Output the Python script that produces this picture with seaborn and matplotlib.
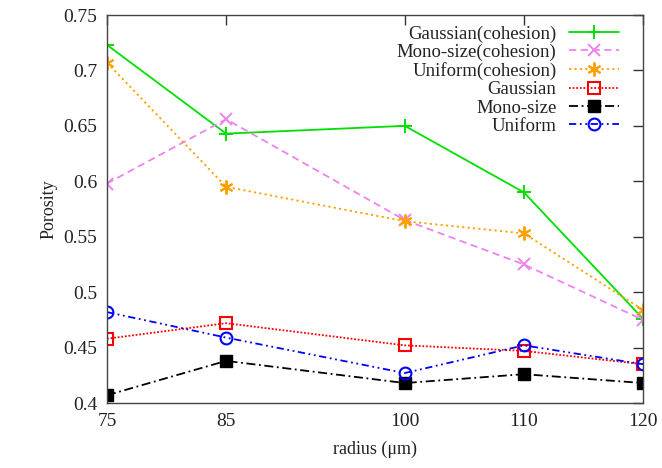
import numpy as np
import pandas as pd
import matplotlib
matplotlib.use("Agg")
import matplotlib.pyplot as plt
import seaborn as sns

radius = [75, 85, 100, 110, 120]
series_names = ["Gaussian(cohesion)", "Mono-size(cohesion)", "Uniform(cohesion)",
                "Gaussian", "Mono-size", "Uniform"]
gaussian_coh = [0.723, 0.643, 0.650, 0.590, 0.476]
mono_coh = [0.598, 0.656, 0.565, 0.525, 0.475]
uniform_coh = [0.707, 0.595, 0.564, 0.553, 0.484]
gaussian = [0.458, 0.472, 0.452, 0.447, 0.435]
mono = [0.407, 0.438, 0.418, 0.426, 0.418]
uniform = [0.482, 0.459, 0.427, 0.452, 0.435]
x_ticks = [75, 85, 100, 110, 120]
y_ticks = [0.4, 0.45, 0.5, 0.55, 0.6, 0.65, 0.7, 0.75]
y_tick_labels = ["0.4", "0.45", "0.5", "0.55", "0.6", "0.65", "0.7", "0.75"]

values = [gaussian_coh, mono_coh, uniform_coh, gaussian, mono, uniform]
df = pd.DataFrame({
    "radius": np.tile(radius, len(series_names)),
    "porosity": np.concatenate(values),
    "series": np.repeat(series_names, len(radius)),
})

styles = {
    "Gaussian(cohesion)": dict(color="#00e000", ls="-", marker="+", ms=10, mfc="none", mew=1.4),
    "Mono-size(cohesion)": dict(color="#ee82ee", ls=(0, (4, 2.5)), marker="x", ms=8, mfc="none", mew=1.4),
    "Uniform(cohesion)": dict(color="#ffa000", ls=(0, (1.2, 1.8)), marker=(6, 2, 0), ms=10, mfc="none", mew=1.4),
    "Gaussian": dict(color="#ff0000", ls=(0, (1, 1)), marker="s", ms=8.5, mfc="none", mew=1.5),
    "Mono-size": dict(color="#000000", ls=(0, (5, 2, 1, 2)), marker="s", ms=8.5, mfc="#000000", mew=1.0),
    "Uniform": dict(color="#0000ff", ls=(0, (4, 2, 1, 2, 1, 2)), marker="o", ms=8.5, mfc="none", mew=1.5),
}

sns.set_theme(style="white")
plt.rcParams["font.family"] = ["Liberation Serif", "DejaVu Serif"]

fig = plt.figure(figsize=(6.62, 4.68), dpi=100)
ax = fig.add_axes([107 / 662, 1 - 403 / 468, (643 - 107) / 662, 388 / 468])

for name in series_names:
    st = styles[name]
    sns.lineplot(data=df[df["series"] == name], x="radius", y="porosity", ax=ax,
                 color=st["color"], linestyle=st["ls"], linewidth=1.3,
                 marker=st["marker"], markersize=st["ms"],
                 markerfacecolor=st["mfc"], markeredgecolor=st["color"],
                 markeredgewidth=st["mew"], label=name)

ax.set_xlim(75, 120)
ax.set_ylim(0.4, 0.75)
ax.set_xticks(x_ticks)
ax.set_xticklabels([str(t) for t in x_ticks])
ax.set_yticks(y_ticks)
ax.set_yticklabels(y_tick_labels)
ax.tick_params(direction="in", length=7, width=1, top=True, right=True,
               labelsize=14, colors="#333333", labelcolor="#222222", pad=7)
for sp in ax.spines.values():
    sp.set_color("#444444")
    sp.set_linewidth(1.0)
    sp.set_visible(True)

ax.set_xlabel("radius (\u03bcm)", fontsize=13, color="#222222", labelpad=8)
ax.set_ylabel("Porosity", fontsize=13, color="#222222", labelpad=4)

leg = ax.legend(loc="upper right", frameon=False, markerfirst=False,
                fontsize=13.5, handlelength=2.7, handletextpad=0.65,
                labelspacing=0.06, borderaxespad=0.0, bbox_to_anchor=(0.97, 0.993))
for t in leg.get_texts():
    t.set_color("#222222")

fig.savefig("out.png", dpi=100)
